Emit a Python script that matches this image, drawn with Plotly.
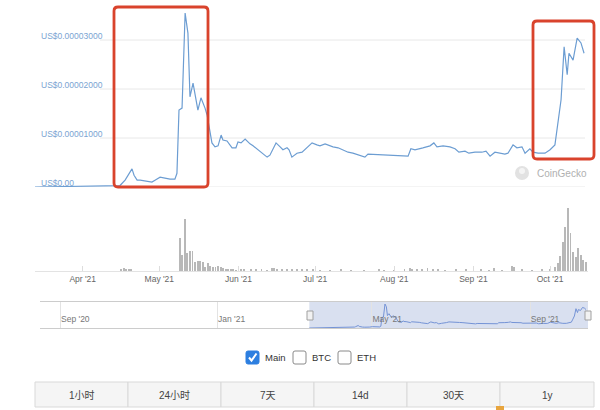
import pandas as pd
import plotly.graph_objects as go

W, H = 600, 410


def px(x):
    return x / W


def py(y):
    return (H - y) / H


BASE = pd.Timestamp("2021-04-01")

# ---------------- data ----------------
# price: days after 2021-04-01, value in units of 1e-5 US$
price_days = [-18.7, 14.6, 16.6, 17.3, 18.1, 19.3, 20.1, 21.3, 22.5, 24.4, 27.1, 28.3, 30.3, 32.2,
              34.2, 36.1, 36.9, 37.7, 38.9, 40.1, 41.2, 42.0, 43.2, 45.1, 46.3, 47.9, 48.7, 50.6,
              51.8, 53.0, 54.2, 54.9, 56.5, 58.5, 60.0, 60.8, 62.0, 63.6, 65.5, 66.7, 68.6, 70.2,
              72.2, 73.3, 75.7, 77.3, 78.4, 80.0, 80.8, 81.9, 83.9, 85.9, 87.8, 89.8, 91.7, 92.9,
              94.9, 96.0, 98.0, 100.0, 101.9, 103.9, 105.8, 108.6, 110.5, 111.7, 117.6, 127.4,
              128.5, 130.1, 133.2, 136.0, 137.5, 138.7, 141.1, 143.8, 145.8, 147.3, 149.7, 151.2,
              153.6, 156.3, 157.9, 159.5, 161.4, 163.0, 165.3, 166.5, 168.5, 170.0, 172.0, 173.2,
              175.1, 176.3, 178.3, 181.0, 183.0, 184.9, 186.1, 187.3, 188.5, 189.7, 190.4, 192.0,
              193.6, 195.1, 196.3]
price_1e5 = [0.0, 0.03, 0.14, 0.20, 0.24, 0.37, 0.24, 0.14, 0.14, 0.12, 0.10, 0.14, 0.20, 0.18,
             0.16, 0.16, 0.28, 1.57, 1.61, 3.55, 3.14, 1.84, 2.12, 1.57, 1.82, 1.61, 1.47, 0.90,
             0.82, 0.84, 1.06, 0.96, 0.94, 0.80, 0.80, 0.92, 0.90, 0.98, 0.88, 0.84, 0.76, 0.71,
             0.61, 0.65, 0.90, 0.82, 0.76, 0.80, 0.76, 0.61, 0.69, 0.71, 0.80, 0.90, 0.86, 0.84,
             0.88, 0.86, 0.82, 0.80, 0.76, 0.71, 0.69, 0.65, 0.61, 0.67, 0.65, 0.63,
             0.78, 0.76, 0.80, 0.84, 0.90, 0.82, 0.84, 0.82, 0.78, 0.71, 0.73, 0.69,
             0.71, 0.71, 0.73, 0.63, 0.71, 0.69, 0.67, 0.69, 0.86, 0.80, 0.82, 0.69,
             0.78, 0.71, 0.69, 0.69, 0.76, 0.86, 1.31, 1.78, 2.86, 2.29, 2.73, 2.59,
             3.04, 2.94, 2.73]

# volume (relative units): days after 2021-04-01
vol_days = [15, 16, 17, 18, 19,
            38, 39, 40, 41, 42, 43, 44, 45, 46, 47, 48, 49, 50, 51, 52, 53, 54, 55, 56,
            57, 58, 59, 60, 61, 62, 63,
            66, 68, 70, 72, 74, 75, 76, 78, 80, 82, 84, 86, 88, 90, 93, 97, 101, 105, 110,
            116, 118, 122, 126, 128, 129, 131, 133, 135, 137, 139, 142, 146, 150, 153, 156,
            159, 161, 164, 168, 169, 172, 176, 180, 183, 185, 186,
            187, 188, 189, 190, 191, 192, 193, 194, 195, 196, 197]
vol_vals = [2, 3, 2, 2, 2,
            33, 16, 52, 18, 20, 20, 9, 10, 10, 9, 4, 8, 5, 4, 4, 5, 4, 3, 2,
            2, 1.5, 2, 1, 2, 1.5, 2,
            1.5, 2, 1.5, 1, 3, 3.5, 2.5, 2, 1.5, 2, 1.5, 2, 1.5, 2, 1, 1, 1.5, 1, 1,
            2, 1, 1, 1.5, 3, 2, 2.5, 2, 3, 2, 2.5, 1, 1.5, 1.5, 1, 1.5,
            1, 3, 1, 5, 4, 1.5, 1, 1.5, 2, 4, 8,
            15, 29, 44, 63, 38, 19, 14, 23, 16, 11, 9]

y_ticks = [0, 1e-5, 2e-5, 3e-5]
y_tick_labels = ["US$0.00", "US$0.00001000", "US$0.00002000", "US$0.00003000"]

vol_ticks = ["2021-04-01", "2021-05-01", "2021-06-01", "2021-07-01", "2021-08-01",
             "2021-09-01", "2021-10-01"]
vol_tick_labels = ["Apr '21", "May '21", "Jun '21", "Jul '21", "Aug '21", "Sep '21", "Oct '21"]

nav_ticks = ["2020-09-01", "2021-01-01", "2021-05-01", "2021-09-01"]
nav_tick_labels = ["Sep '20", "Jan '21", "May '21", "Sep '21"]

legend_items = ["Main", "BTC", "ETH"]
legend_checked = [True, False, False]
range_buttons = ["1小时", "24小时", "7天", "14d", "30天", "1y"]

# ---------------- derived ----------------
price_dates = [BASE + pd.Timedelta(days=d) for d in price_days]
price_usd = [v * 1e-5 for v in price_1e5]
vol_dates = [BASE + pd.Timedelta(days=d) for d in vol_days]

main_start = BASE + pd.Timedelta(days=-18.68)
main_end = BASE + pd.Timedelta(days=197.85)
nav_start = main_end - pd.Timedelta(days=425.8)

FONT = "Liberation Sans, Noto Sans CJK SC, sans-serif"
LINE_BLUE = "#6c9dd2"

fig = go.Figure()
fig.add_trace(go.Scatter(x=price_dates, y=price_usd, mode="lines",
                         line=dict(color=LINE_BLUE, width=1.2), xaxis="x", yaxis="y",
                         hoverinfo="skip", showlegend=False))
fig.add_trace(go.Bar(x=vol_dates, y=vol_vals, marker=dict(color="#b8b8b8", line=dict(width=0)),
                     width=0.36 * 86400000, xaxis="x2", yaxis="y2", showlegend=False,
                     hoverinfo="skip"))
fig.add_trace(go.Scatter(x=price_dates, y=price_usd, mode="lines",
                         line=dict(color="#7493d6", width=1), xaxis="x3", yaxis="y3",
                         hoverinfo="skip", showlegend=False))

shapes = []
annotations = []

# price gridlines + labels
for v, lab in zip(y_ticks, y_tick_labels):
    x0 = 40 if v == 0 else 100
    shapes.append(dict(type="line", xref="paper", yref="y", x0=px(x0), x1=px(585), y0=v, y1=v,
                       line=dict(color="#e8e8e8", width=1), layer="below"))
    annotations.append(dict(xref="paper", yref="y", x=px(39), y=v, yshift=4.5, text=lab,
                            showarrow=False, xanchor="left", yanchor="middle",
                            font=dict(size=8.5, color="#7ba4d2", family=FONT)))


def rounded_rect(x0, y0, x1, y1, r):
    pts = [
        f"M {px(x0 + r)} {py(y0)}",
        f"L {px(x1 - r)} {py(y0)}",
        f"Q {px(x1)} {py(y0)} {px(x1)} {py(y0 + r)}",
        f"L {px(x1)} {py(y1 - r)}",
        f"Q {px(x1)} {py(y1)} {px(x1 - r)} {py(y1)}",
        f"L {px(x0 + r)} {py(y1)}",
        f"Q {px(x0)} {py(y1)} {px(x0)} {py(y1 - r)}",
        f"L {px(x0)} {py(y0 + r)}",
        f"Q {px(x0)} {py(y0)} {px(x0 + r)} {py(y0)} Z",
    ]
    return " ".join(pts)


# red highlight boxes
for (x0, y0, x1, y1) in [(114, 7, 208, 187), (533, 21, 594, 159)]:
    shapes.append(dict(type="path", xref="paper", yref="paper", path=rounded_rect(x0, y0, x1, y1, 4),
                       line=dict(color="#d9432c", width=2.8), layer="above"))

# CoinGecko watermark
shapes.append(dict(type="circle", xref="paper", yref="paper", x0=px(515), x1=px(529),
                   y0=py(180), y1=py(166), fillcolor="#e2e2e2", line=dict(width=0)))
shapes.append(dict(type="circle", xref="paper", yref="paper", x0=px(519), x1=px(525),
                   y0=py(174), y1=py(168), fillcolor="#f4f4f4", line=dict(width=0)))
annotations.append(dict(xref="paper", yref="paper", x=px(535), y=py(173), text="CoinGecko",
                        showarrow=False, xanchor="left", yanchor="middle",
                        font=dict(size=10, color="#b0b0b0", family=FONT)))

# navigator selection mask and handles
shapes.append(dict(type="rect", xref="x3", yref="paper", x0=main_start, x1=main_end,
                   y0=py(328), y1=py(302), fillcolor="rgba(102,133,194,0.25)",
                   line=dict(width=0), layer="below"))
for hx in [310, 588]:
    shapes.append(dict(type="rect", xref="paper", yref="paper", x0=px(hx - 3), x1=px(hx + 3),
                       y0=py(320), y1=py(311), fillcolor="#f2f2f2",
                       line=dict(color="#a0a0a0", width=1), layer="above"))

# legend checkboxes
box_x = [246, 293, 338]
for bx, lab, chk in zip(box_x, legend_items, legend_checked):
    if chk:
        shapes.append(dict(type="path", xref="paper", yref="paper",
                           path=rounded_rect(bx, 351, bx + 13, 364, 2),
                           fillcolor="#2d7fe0", line=dict(color="#2d7fe0", width=1)))
        shapes.append(dict(type="path", xref="paper", yref="paper",
                           path=f"M {px(bx + 3)} {py(357.5)} L {px(bx + 5.5)} {py(360.5)} "
                                f"L {px(bx + 10.5)} {py(353.5)}",
                           line=dict(color="white", width=2)))
    else:
        shapes.append(dict(type="path", xref="paper", yref="paper",
                           path=rounded_rect(bx, 351, bx + 13, 364, 2),
                           fillcolor="white", line=dict(color="#8a8a8a", width=1)))
    annotations.append(dict(xref="paper", yref="paper", x=px(bx + 17), y=py(357.5), text=lab,
                            showarrow=False, xanchor="left", yanchor="middle",
                            font=dict(size=9.5, color="#333", family=FONT)))

# range buttons
bounds = [35, 128, 221, 314, 407, 500, 594]
for i, lab in enumerate(range_buttons):
    x0, x1 = bounds[i], bounds[i + 1]
    shapes.append(dict(type="rect", xref="paper", yref="paper", x0=px(x0), x1=px(x1),
                       y0=py(407), y1=py(382), fillcolor="#f5f5f5",
                       line=dict(color="#d9d9d9", width=1)))
    annotations.append(dict(xref="paper", yref="paper", x=px((x0 + x1) / 2), y=py(395), text=lab,
                            showarrow=False, xanchor="center", yanchor="middle",
                            font=dict(size=10, color="#444", family=FONT)))
shapes.append(dict(type="rect", xref="paper", yref="paper", x0=px(496), x1=px(504),
                   y0=py(410), y1=py(406), fillcolor="#e8a53e", line=dict(width=0)))

fig.update_layout(
    width=W, height=H, margin=dict(l=0, r=0, t=0, b=0),
    paper_bgcolor="white", plot_bgcolor="white",
    font=dict(family=FONT),
    showlegend=False, bargap=0,
    xaxis=dict(domain=[px(35), px(588)], range=[main_start, main_end], visible=False,
               anchor="y"),
    yaxis=dict(domain=[py(187), py(5.7)], range=[0, 3.7e-5], visible=False, anchor="x"),
    xaxis2=dict(domain=[px(35), px(588)], range=[main_start, main_end], anchor="y2",
                tickvals=vol_ticks, ticktext=vol_tick_labels, ticks="inside", ticklen=5,
                tickcolor="#dddddd", showline=True, linecolor="#e3e3e3", showgrid=False,
                zeroline=False, tickfont=dict(size=8.5, color="#666", family=FONT)),
    yaxis2=dict(domain=[py(271), py(205)], range=[0, 66], visible=False, anchor="x2"),
    xaxis3=dict(domain=[px(40), px(588)], range=[nav_start, main_end], anchor="y3",
                tickvals=nav_ticks, ticktext=nav_tick_labels, ticklabelposition="inside right",
                ticks="", showgrid=True, gridcolor="#e3e3e3", showline=True, mirror=True,
                linecolor="#cccccc", zeroline=False,
                tickfont=dict(size=8.5, color="#777", family=FONT)),
    yaxis3=dict(domain=[py(328), py(302)], range=[0, 3.85e-5], visible=False, anchor="x3"),
    shapes=shapes, annotations=annotations,
)

fig.write_html("out.html", config={"displayModeBar": False},
               post_script="document.body.style.margin='0';document.body.style.padding='0';")
